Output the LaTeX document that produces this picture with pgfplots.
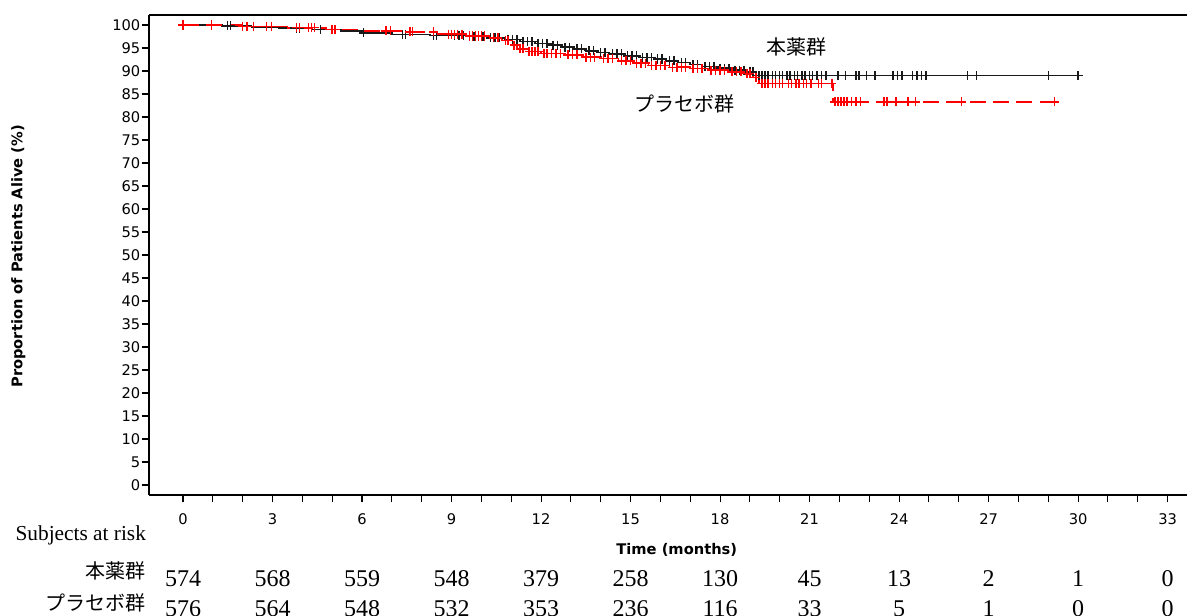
\documentclass[border=0pt]{standalone}
\usepackage{fontspec}
\setmainfont{Liberation Serif}
\newfontfamily\dejavu{DejaVu Sans}
\newfontfamily\cjk{Noto Sans CJK JP}
\usepackage{pgfplots}
\pgfplotsset{compat=1.18}
\definecolor{kmred}{RGB}{255,0,0}
\definecolor{kmblack}{RGB}{25,25,25}
\begin{document}
\begin{tikzpicture}
\begin{axis}[
 scale only axis, width=778.5pt, height=360pt,
 xmin=-1.14, xmax=33.65, ymin=-2.17, ymax=102.17,
 axis x line*=box, axis y line*=left,
 xtick={0,3,...,33}, minor x tick num=2, ytick={0,5,...,100},
 xtick pos=bottom, ytick pos=left, tick align=outside,
 major tick length=5.5pt, minor tick length=5.5pt,
 tick style={black, line width=0.8pt},
 axis line style={black, line width=1pt},
 ticklabel style={font=\dejavu\fontsize{11}{13}\selectfont},
 xticklabel style={yshift=-5pt},
 yticklabel style={xshift=2.5pt},
 /pgf/number format/assume math mode=true,
 clip=false,
]
% black (本薬群) KM step
\addplot[const plot, kmblack, line width=1.2pt] coordinates {
(0,100) (1.3,99.8) (2.3,99.5) (3.2,99.3) (4.3,99.0) (5.3,98.7) (6.0,98.3) (7.0,97.9)
(8.3,97.7) (9.5,97.5) (10.2,97.2) (10.8,96.8) (11.3,96.4) (11.8,96.0) (12.3,95.6)
(12.7,95.2) (13.1,94.8) (13.5,94.4) (13.9,94.0) (14.3,93.7) (14.8,93.3) (15.3,92.9)
(15.8,92.6) (16.2,92.2) (16.6,91.8) (17.0,91.4) (17.4,91.0) (17.9,90.6) (18.4,90.2)
(18.9,89.8) (19.2,89.0) (30.0,89.0)};
\addplot[only marks, mark=+, mark size=3.4pt, kmblack, mark options={line width=1.1pt}] coordinates {
(1.5,99.8) (1.6,99.8) (3.8,99.3) (3.9,99.3) (4.6,99.0) (6.05,98.3) (7.35,97.9) (7.45,97.9)
(8.4,97.7) (8.5,97.7) (9.1,97.7) (9.25,97.7) (9.4,97.7) (9.6,97.5) (9.75,97.5) (9.9,97.5)
(10.05,97.5) (10.3,97.2) (10.45,97.2) (10.6,97.2) (10.9,96.8) (11.05,96.8) (11.2,96.8)
(11.4,96.4) (11.55,96.4) (11.7,96.4) (11.9,96.0) (12.05,96.0) (12.2,96.0) (12.4,95.6)
(12.55,95.6) (12.8,95.2) (12.95,95.2) (13.2,94.8) (13.35,94.8) (13.6,94.4) (13.75,94.4)
(14.0,94.0) (14.15,94.0) (14.4,93.7) (14.55,93.7) (14.7,93.7) (14.9,93.3) (15.05,93.3)
(15.2,93.3) (15.4,92.9) (15.55,92.9) (15.7,92.9) (15.9,92.6) (16.05,92.6) (16.3,92.2)
(16.45,92.2) (16.7,91.8) (16.85,91.8) (17.1,91.4) (17.25,91.4) (17.5,91.0) (17.65,91.0)
(17.8,91.0) (18.0,90.6) (18.15,90.6) (18.3,90.6) (18.5,90.2) (18.65,90.2) (18.8,90.2)
(19.0,89.8) (19.1,89.8) (19.3,89.0) (19.4,89.0) (19.5,89.0) (19.6,89.0) (19.75,89.0)
(19.85,89.0) (20.0,89.0) (20.1,89.0) (20.25,89.0) (20.35,89.0) (20.5,89.0) (20.6,89.0)
(20.75,89.0) (20.85,89.0) (21.0,89.0) (21.1,89.0) (21.25,89.0) (21.4,89.0) (21.55,89.0)
(21.95,89.0) (22.2,89.0) (22.55,89.0) (22.65,89.0) (22.9,89.0) (23.2,89.0) (23.8,89.0)
(23.95,89.0) (24.1,89.0) (24.45,89.0) (24.6,89.0) (24.75,89.0) (24.9,89.0) (26.3,89.0)
(26.6,89.0) (29.0,89.0) (30.0,89.0)};
% red (プラセボ群) KM step
\addplot[const plot, kmred, line width=1.2pt, dash pattern=on 12pt off 5.5pt] coordinates {
(0,100) (2.0,99.7) (3.5,99.4) (4.8,99.0) (6.0,98.7) (7.5,98.5) (8.5,98.0) (9.5,97.6)
(10.3,97.2) (10.7,96.6) (11.0,95.6) (11.2,94.8) (11.5,94.2) (12.0,93.8) (12.8,93.5)
(13.4,93.0) (14.0,92.7) (14.6,92.2) (15.1,91.7) (15.6,91.2) (16.3,90.8) (17.0,90.5)
(17.6,90.2) (18.3,89.8) (18.8,89.4) (19.1,88.6) (19.3,87.3) (21.78,83.3) (29.2,83.3)};
\addplot[only marks, mark=+, mark size=3.4pt, kmred, mark options={line width=1.1pt}] coordinates {
(0.0,100) (0.95,100) (2.0,99.7) (2.15,99.7) (2.37,99.7) (2.8,99.7) (2.97,99.7) (3.8,99.4)
(3.9,99.4) (4.2,99.4) (4.3,99.4) (4.4,99.4) (5.0,99.0) (5.1,99.0) (6.8,98.7) (6.95,98.7)
(7.6,98.5) (7.7,98.5) (8.4,98.5) (8.9,98.0) (9.0,98.0) (9.1,98.0) (9.2,98.0) (9.35,98.0)
(9.6,97.6) (9.7,97.6) (9.8,97.6) (9.9,97.6) (10.0,97.6) (10.1,97.6) (10.4,97.2) (10.55,97.2)
(10.8,96.6) (10.9,96.6) (11.1,95.6) (11.3,94.8) (11.4,94.8) (11.6,94.2) (11.7,94.2)
(11.8,94.2) (11.9,94.2) (12.1,93.8) (12.2,93.8) (12.35,93.8) (12.5,93.8) (12.65,93.8)
(12.9,93.5) (13.05,93.5) (13.2,93.5) (13.5,93.0) (13.65,93.0) (13.8,93.0) (14.1,92.7)
(14.25,92.7) (14.4,92.7) (14.7,92.2) (14.85,92.2) (15.0,92.2) (15.2,91.7) (15.35,91.7)
(15.5,91.7) (15.7,91.2) (15.85,91.2) (16.0,91.2) (16.15,91.2) (16.4,90.8) (16.55,90.8)
(16.7,90.8) (16.85,90.8) (17.1,90.5) (17.25,90.5) (17.4,90.5) (17.7,90.2) (17.85,90.2)
(18.0,90.2) (18.15,90.2) (18.4,89.8) (18.55,89.8) (18.7,89.8) (18.9,89.4) (19.0,89.4)
(19.2,88.6) (19.4,87.3) (19.5,87.3) (19.6,87.3) (19.75,87.3) (19.85,87.3) (20.0,87.3)
(20.1,87.3) (20.3,87.3) (20.4,87.3) (20.55,87.3) (20.65,87.3) (20.8,87.3) (20.9,87.3)
(21.05,87.3) (21.3,87.3) (21.4,87.3) (21.75,87.3) (21.85,83.3) (21.95,83.3) (22.05,83.3)
(22.15,83.3) (22.25,83.3) (22.4,83.3) (22.56,83.3) (22.7,83.3) (23.5,83.3) (23.6,83.3)
(23.9,83.3) (24.3,83.3) (24.55,83.3) (26.1,83.3) (29.2,83.3)};
% in-plot group labels
\node[font=\cjk\fontsize{15}{18}\selectfont] at (axis cs:20.55,95.2) {本薬群};
\node[font=\cjk\fontsize{15}{18}\selectfont] at (axis cs:16.8,82.8) {プラセボ群};
% axis labels
\node[rotate=90, font=\dejavu\bfseries\fontsize{11}{13}\selectfont] at (axis cs:-5.52,49.7) {Proportion of Patients Alive (\%)};
\node[font=\dejavu\bfseries\fontsize{11}{13}\selectfont] at (axis cs:16.55,-14.0) {Time (months)};
% risk table
\node[anchor=west, inner sep=0pt, font=\fontsize{16}{19}\selectfont] at (axis cs:-5.62,-10.9) {Subjects at risk};
\node[anchor=east, inner sep=0pt, font=\cjk\fontsize{15}{18}\selectfont] at (axis cs:-1.26,-18.7) {本薬群};
\node[anchor=east, inner sep=0pt, font=\cjk\fontsize{15}{18}\selectfont] at (axis cs:-1.26,-25.6) {プラセボ群};
\begin{scope}[every node/.style={font=\fontsize{18}{21}\selectfont}]
\node at (axis cs:0,-20.4) {574};
\node at (axis cs:3,-20.4) {568};
\node at (axis cs:6,-20.4) {559};
\node at (axis cs:9,-20.4) {548};
\node at (axis cs:12,-20.4) {379};
\node at (axis cs:15,-20.4) {258};
\node at (axis cs:18,-20.4) {130};
\node at (axis cs:21,-20.4) {45};
\node at (axis cs:24,-20.4) {13};
\node at (axis cs:27,-20.4) {2};
\node at (axis cs:30,-20.4) {1};
\node at (axis cs:33,-20.4) {0};
\node at (axis cs:0,-26.9) {576};
\node at (axis cs:3,-26.9) {564};
\node at (axis cs:6,-26.9) {548};
\node at (axis cs:9,-26.9) {532};
\node at (axis cs:12,-26.9) {353};
\node at (axis cs:15,-26.9) {236};
\node at (axis cs:18,-26.9) {116};
\node at (axis cs:21,-26.9) {33};
\node at (axis cs:24,-26.9) {5};
\node at (axis cs:27,-26.9) {1};
\node at (axis cs:30,-26.9) {0};
\node at (axis cs:33,-26.9) {0};
\end{scope}
\end{axis}
\pgfresetboundingbox
\path[use as bounding box] ([xshift=-111.75pt,yshift=-90.75pt]current axis.south west) rectangle ([yshift=11.25pt]current axis.north east);
\end{tikzpicture}
\end{document}
